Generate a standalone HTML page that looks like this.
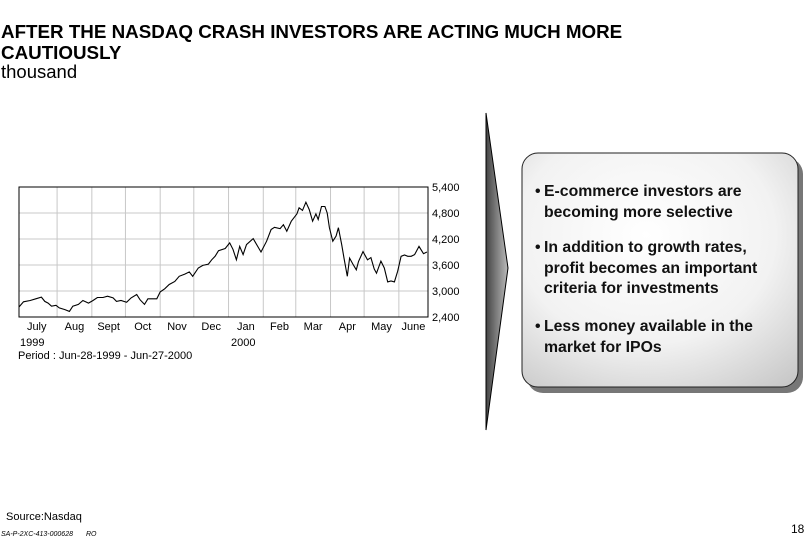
<!DOCTYPE html>
<html><head><meta charset="utf-8">
<style>
body{margin:0;width:810px;height:540px;background:#fff;position:relative;overflow:hidden;font-family:"Liberation Sans",Arial,sans-serif;color:#000}
.t{position:absolute;white-space:nowrap}
.bul{position:absolute;left:535px;font-weight:bold;font-size:15.8px;line-height:20.5px;color:#111}
</style></head><body>
<div class="t" style="left:1px;top:21px;font-size:18.8px;font-weight:bold;line-height:21px">AFTER THE NASDAQ CRASH INVESTORS ARE ACTING MUCH MORE<br>CAUTIOUSLY</div>
<div class="t" style="left:1px;top:61px;font-size:18.5px">thousand</div>

<svg width="810" height="540" style="position:absolute;left:0;top:0">
<defs>
<linearGradient id="arr" x1="0" x2="1"><stop offset="0" stop-color="#444"/><stop offset="1" stop-color="#bbb"/></linearGradient>
<radialGradient id="box" cx="0.45" cy="0.35" r="0.85"><stop offset="0" stop-color="#fff"/><stop offset="0.55" stop-color="#f2f2f2"/><stop offset="1" stop-color="#c4c4c4"/></radialGradient>
</defs>
<polygon points="486,113 508,268 486,430 486,113" fill="url(#arr)" stroke="#000" stroke-width="1"/>
<rect x="527" y="158" width="276" height="235" rx="16" fill="#777"/>
<rect x="522" y="153" width="276" height="234" rx="16" fill="url(#box)" stroke="#222" stroke-width="1"/>
<g id="chart"></g>
</svg>

<div class="bul" style="top:182px">•<span style="position:absolute;left:9px;white-space:nowrap">E-commerce investors are<br>becoming more selective</span></div>
<div class="bul" style="top:238px">•<span style="position:absolute;left:9px;white-space:nowrap">In addition to growth rates,<br>profit becomes an important<br>criteria for investments</span></div>
<div class="bul" style="top:317px">•<span style="position:absolute;left:9px;white-space:nowrap">Less money available in the<br>market for IPOs</span></div>

<div class="t" style="left:20px;top:337px;font-size:11px">1999</div>
<div class="t" style="left:231px;top:337px;font-size:11px">2000</div>
<div class="t" style="left:18px;top:350px;font-size:11px">Period : Jun-28-1999 - Jun-27-2000</div>
<div class="t" style="left:6px;top:511px;font-size:11px">Source:Nasdaq</div>
<div class="t" style="left:1px;top:531px;font-size:7px;font-style:italic">SA-P-2XC-413-000628</div>
<div class="t" style="left:86px;top:531px;font-size:7px;font-style:italic">RO</div>
<div class="t" style="left:791px;top:522px;font-size:12px">18</div>

<script>
const days=[0,4,10,15,20,23,26,29,33,36,41,45,48,53,57,62,66,70,75,79,84,87,91,96,100,105,108,112,115,120,123,126,130,134,139,143,148,152,155,160,164,169,172,175,178,184,188,191,194,197,200,203,209,213,216,221,225,228,233,236,239,243,248,250,253,256,259,262,265,267,270,273,275,277,280,283,285,288,290,293,295,298,301,303,307,311,314,317,319,323,326,329,332,335,338,341,344,347,350,353,357,361,364];
const values=[2630,2750,2780,2820,2860,2760,2720,2650,2670,2610,2570,2530,2650,2690,2780,2720,2780,2850,2850,2880,2840,2760,2780,2740,2840,2920,2800,2690,2820,2820,2820,2980,3050,3150,3220,3340,3390,3440,3340,3530,3590,3620,3720,3800,3930,3980,4110,3960,3720,4030,3840,4070,4210,4030,3900,4150,4420,4470,4440,4530,4380,4610,4780,4920,4860,5050,4880,4610,4780,4650,4950,4950,4800,4460,4150,4270,4460,4070,3760,3340,3760,3620,3490,3680,3910,3720,3770,3510,3410,3690,3530,3210,3230,3210,3460,3800,3830,3800,3800,3840,4030,3860,3900];
const yTicks=[2400,3000,3600,4200,4800,5400];
const yTickLabels=["2,400","3,000","3,600","4,200","4,800","5,400"];
const months=["July","Aug","Sept","Oct","Nov","Dec","Jan","Feb","Mar","Apr","May","June"];
const monthStarts=[3,34,65,95,126,156,187,218,247,278,308,339];

const X0=19,X1=428,Y0=187,Y1=317;
const xs=d=>X0+d/365*(X1-X0);
const ys=v=>Y1-(v-2400)/3000*(Y1-Y0);
const NS="http://www.w3.org/2000/svg";
const g=document.getElementById('chart');
function mk(t,a){const e=document.createElementNS(NS,t);for(const k in a)e.setAttribute(k,a[k]);g.appendChild(e);return e;}
yTicks.forEach((v,i)=>{
  const l=mk('line',{x1:X0,x2:X1,y1:ys(v),y2:ys(v),stroke:'#c8c8c8','stroke-width':1});
  
  
  const t=mk('text',{x:432,y:ys(v)+4,'font-size':11,'font-family':'Liberation Sans, Arial, sans-serif'});
  t.textContent=yTickLabels[i];
  
  
});
monthStarts.forEach((d,i)=>{
  if(i>0){const l=mk('line',{x1:xs(d),x2:xs(d),y1:Y0,y2:Y1,stroke:'#c8c8c8','stroke-width':1});
  
  }
  const next=i<11?monthStarts[i+1]:365;
  const t=mk('text',{x:(xs(d)+xs(next))/2-(i==0?3:0),y:330,'font-size':11,'text-anchor':'middle','font-family':'Liberation Sans, Arial, sans-serif'});
  t.textContent=months[i];
  
  
});
const fr=mk('rect',{x:X0,y:Y0,width:X1-X0,height:Y1-Y0,fill:'none',stroke:'#000','stroke-width':1});


const p=mk('polyline',{points:days.map((d,i)=>xs(d).toFixed(1)+','+ys(values[i]).toFixed(1)).join(' '),fill:'none',stroke:'#000','stroke-width':1.1});


</script>
</body></html>
